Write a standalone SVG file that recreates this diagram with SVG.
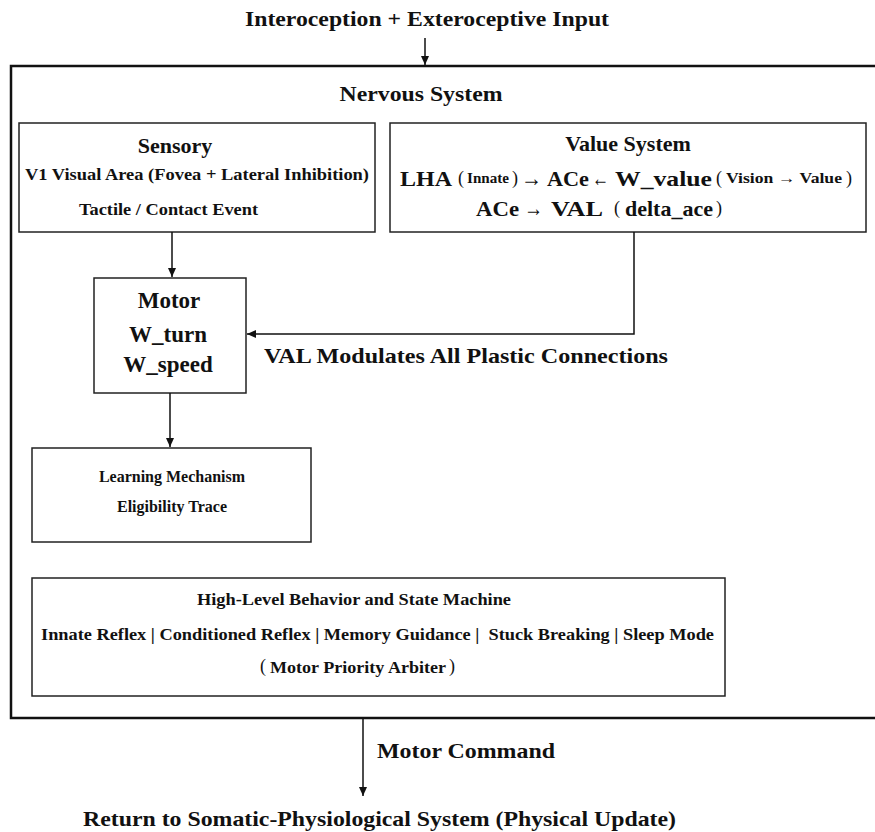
<svg xmlns="http://www.w3.org/2000/svg" width="875" height="832" viewBox="0 0 875 832">
<style>
text{font-family:"Liberation Serif","Times New Roman",serif;font-weight:bold;fill:#111}
.box{fill:#fff;stroke:#222;stroke-width:1.5}
.outer{fill:none;stroke:#111;stroke-width:2.5}
.ln{fill:none;stroke:#111;stroke-width:1.5}
.t21{font-size:21px}
.t22{font-size:22px}
.t23{font-size:23px}
.t16{font-size:16px}
.t15{font-size:15px}
.ar{font-size:24px}
.p{font-size:18px;font-weight:normal}
</style>
<defs>
<marker id="ah" markerWidth="10" markerHeight="10" refX="9" refY="5" orient="auto" markerUnits="userSpaceOnUse">
<path d="M0,1 L9,5 L0,9 Z" fill="#111"/>
</marker>
</defs>
<rect width="875" height="832" fill="#fff"/>
<text class="t22" x="427" y="26" text-anchor="middle" textLength="364" lengthAdjust="spacingAndGlyphs">Interoception + Exteroceptive Input</text>
<g id="nervous-system">
<rect class="outer" x="11" y="66" width="875" height="652"/>
<text class="t21" x="421" y="101" text-anchor="middle" textLength="163" lengthAdjust="spacingAndGlyphs">Nervous System</text>
</g>
<g id="sensory">
<rect class="box" x="19" y="123" width="356" height="109"/>
<text class="t22" x="175" y="153" text-anchor="middle">Sensory</text>
<text class="t16" x="25" y="180" textLength="344" lengthAdjust="spacingAndGlyphs">V1 Visual Area (Fovea + Lateral Inhibition)</text>
<text class="t16" x="79" y="215" textLength="179" lengthAdjust="spacingAndGlyphs">Tactile / Contact Event</text>
</g>
<g id="value-system">
<rect class="box" x="390" y="123" width="476" height="109"/>
<text class="t22" x="628" y="151" text-anchor="middle">Value System</text>
<text class="t22" x="400" y="186" textLength="52" lengthAdjust="spacingAndGlyphs">LHA</text>
<text class="p" x="458" y="184">(</text>
<text class="t15" x="467" y="183" textLength="42" lengthAdjust="spacingAndGlyphs">Innate</text>
<text class="p" x="512" y="184">)</text>
<text class="ar" x="521" y="186" textLength="21" lengthAdjust="spacingAndGlyphs">→</text>
<text class="t22" x="547" y="186" textLength="42" lengthAdjust="spacingAndGlyphs">ACe</text>
<text class="ar" x="592" y="186" textLength="17" lengthAdjust="spacingAndGlyphs">←</text>
<text class="t22" x="615" y="186" textLength="97" lengthAdjust="spacingAndGlyphs">W_value</text>
<text class="p" x="716" y="184">(</text>
<text class="t15" x="726" y="183" textLength="116" lengthAdjust="spacingAndGlyphs">Vision → Value</text>
<text class="p" x="846" y="184">)</text>
<text class="t22" x="476" y="216" textLength="43" lengthAdjust="spacingAndGlyphs">ACe</text>
<text class="ar" x="524" y="216" textLength="19" lengthAdjust="spacingAndGlyphs">→</text>
<text class="t22" x="551" y="216" textLength="52" lengthAdjust="spacingAndGlyphs">VAL</text>
<text class="p" x="614" y="214">(</text>
<text class="t22" x="625" y="216" textLength="88" lengthAdjust="spacingAndGlyphs">delta_ace</text>
<text class="p" x="716" y="214">)</text>
</g>
<g id="motor">
<rect class="box" x="94" y="278" width="152" height="115"/>
<text class="t23" x="169" y="308" text-anchor="middle">Motor</text>
<text class="t23" x="168" y="342" text-anchor="middle">W_turn</text>
<text class="t23" x="168" y="372" text-anchor="middle">W_speed</text>
</g>
<g id="learning">
<rect class="box" x="32" y="448" width="279" height="94"/>
<text class="t16" x="172" y="482" text-anchor="middle">Learning Mechanism</text>
<text class="t16" x="172" y="512" text-anchor="middle">Eligibility Trace</text>
</g>
<g id="high-level">
<rect class="box" x="32" y="578" width="693" height="118"/>
<text class="t16" x="354" y="605" text-anchor="middle" textLength="314" lengthAdjust="spacingAndGlyphs">High-Level Behavior and State Machine</text>
<text class="t16" x="41" y="640" textLength="673" lengthAdjust="spacingAndGlyphs" xml:space="preserve">Innate Reflex | Conditioned Reflex | Memory Guidance |  Stuck Breaking | Sleep Mode</text>
<text class="p" x="260" y="672">(</text>
<text class="t16" x="270" y="673" textLength="176" lengthAdjust="spacingAndGlyphs">Motor Priority Arbiter</text>
<text class="p" x="449" y="672">)</text>
</g>
<g id="connectors">
<line class="ln" x1="425" y1="38" x2="425" y2="65" marker-end="url(#ah)"/>
<line class="ln" x1="172" y1="232" x2="172" y2="277" marker-end="url(#ah)"/>
<polyline class="ln" points="634,232 634,334 247,334" marker-end="url(#ah)"/>
<line class="ln" x1="170" y1="393" x2="170" y2="447" marker-end="url(#ah)"/>
<line class="ln" x1="363" y1="719" x2="363" y2="796" marker-end="url(#ah)"/>
<text class="t21" x="264" y="363" textLength="404" lengthAdjust="spacingAndGlyphs">VAL Modulates All Plastic Connections</text>
<text class="t21" x="377" y="758" textLength="178" lengthAdjust="spacingAndGlyphs">Motor Command</text>
</g>
<text class="t21" x="83" y="826" textLength="593" lengthAdjust="spacingAndGlyphs">Return to Somatic-Physiological System (Physical Update)</text>
</svg>
